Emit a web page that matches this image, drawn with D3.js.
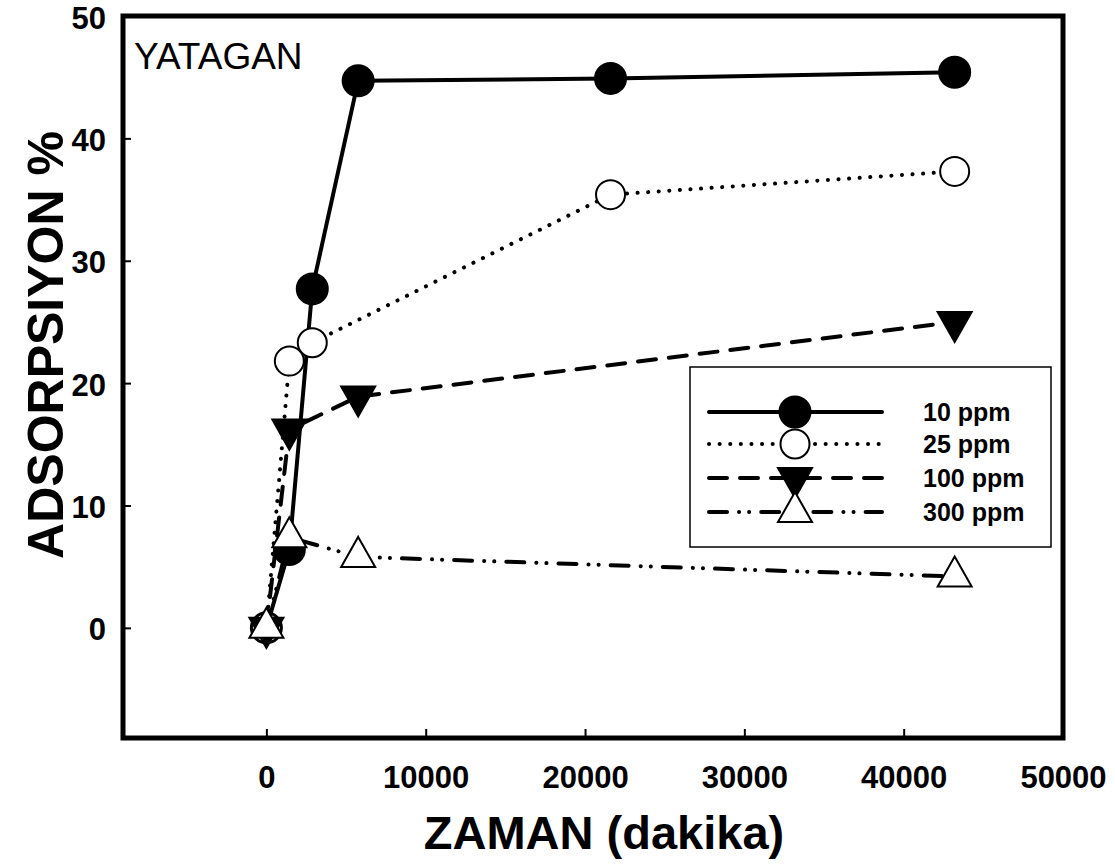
<!DOCTYPE html>
<html>
<head>
<meta charset="utf-8">
<script src="https://cdn.jsdelivr.net/npm/d3@7"></script>
<style>
  html, body { margin: 0; padding: 0; background: #fff; }
  svg { display: block; }
  text { font-family: "Liberation Sans", Arial, sans-serif; fill: #000; }
</style>
</head>
<body>
<svg id="chart" width="1115" height="865"></svg>
<script>
// Contact time in minutes
const times10 = [0, 1440, 2880, 5760, 21600, 43200];
const ads10   = [0, 6.4, 27.7, 44.7, 44.9, 45.4];

const times25 = [0, 1440, 2880, 21600, 43200];
const ads25   = [0, 21.8, 23.3, 35.4, 37.3];

const times100 = [0, 1440, 5760, 43200];
const ads100   = [0, 16.2, 18.9, 25.0];

const times300 = [0, 1440, 5760, 43200];
const ads300   = [0, 7.4, 5.8, 4.2];

const seriesNames = ["10 ppm", "25 ppm", "100 ppm", "300 ppm"];
const xTicks = [0, 10000, 20000, 30000, 40000, 50000];
const yTicks = [0, 10, 20, 30, 40, 50];

const svg = d3.select("#chart");
const L = 123, R = 1063, T = 16, B = 738;

const x = d3.scaleLinear().domain([-9000, 50000]).range([L, R]);
const y = d3.scaleLinear().domain([-9, 50]).range([B, T]);

// Series styling
const styles = [
  { dash: null,                    symbol: "circle",   fill: "#000" },
  { dash: "0.1,10.5",              symbol: "circle",   fill: "#fff" },
  { dash: "18,13",                 symbol: "triDown",  fill: "#000" },
  { dash: "18,12,0.1,10,0.1,12",   symbol: "triUp",    fill: "#fff" }
];

const series = [
  times10.map((t, i) => [t, ads10[i]]),
  times25.map((t, i) => [t, ads25[i]]),
  times100.map((t, i) => [t, ads100[i]]),
  times300.map((t, i) => [t, ads300[i]])
];

function symbolPath(kind) {
  const w = 34, h = 30;
  if (kind === "triDown") return `M${-w/2},${-h/3}L${w/2},${-h/3}L0,${2*h/3}Z`;
  if (kind === "triUp") return `M0,${-2*h/3}L${w/2},${h/3}L${-w/2},${h/3}Z`;
  return null;
}

function drawSymbol(g, kind, fill, cx, cy) {
  if (kind === "circle") {
    g.append("circle")
      .attr("cx", cx).attr("cy", cy)
      .attr("r", fill === "#000" ? 15.5 : 14.5)
      .attr("fill", fill)
      .attr("stroke", "#000")
      .attr("stroke-width", 2);
  } else {
    g.append("path")
      .attr("d", symbolPath(kind))
      .attr("transform", `translate(${cx},${cy})`)
      .attr("fill", fill)
      .attr("stroke", "#000")
      .attr("stroke-width", 2)
      .attr("stroke-linejoin", "miter");
  }
}

const line = d3.line().x(d => x(d[0])).y(d => y(d[1]));

const plot = svg.append("g");
series.forEach((data, i) => {
  const st = styles[i];
  plot.append("path")
    .datum(data)
    .attr("d", line)
    .attr("fill", "none")
    .attr("stroke", "#000")
    .attr("stroke-width", 4)
    .attr("stroke-linecap", "round")
    .attr("stroke-linejoin", "round")
    .attr("stroke-dasharray", st.dash);
  data.forEach(d => drawSymbol(plot, st.symbol, st.fill, x(d[0]), y(d[1])));
});

// Frame
svg.append("rect")
  .attr("x", L).attr("y", T)
  .attr("width", R - L).attr("height", B - T)
  .attr("fill", "none")
  .attr("stroke", "#000")
  .attr("stroke-width", 5);

// Axes with inward ticks
const xAxis = svg.append("g")
  .attr("transform", `translate(0,${B})`)
  .call(d3.axisBottom(x).tickValues(xTicks).tickFormat(d3.format("d"))
    .tickSizeInner(-9).tickSizeOuter(0).tickPadding(28));
xAxis.select(".domain").remove();
xAxis.selectAll(".tick line").attr("stroke", "#000").attr("stroke-width", 2);
xAxis.selectAll(".tick text")
  .attr("font-size", 31).attr("font-weight", "bold")
  .attr("font-family", "'Liberation Sans', Arial, sans-serif")
  .attr("fill", "#000");

const yAxis = svg.append("g")
  .attr("transform", `translate(${L},0)`)
  .call(d3.axisLeft(y).tickValues(yTicks).tickFormat(d3.format("d"))
    .tickSizeInner(-8).tickSizeOuter(0).tickPadding(17));
yAxis.select(".domain").remove();
yAxis.selectAll(".tick line").attr("stroke", "#000").attr("stroke-width", 2);
yAxis.selectAll(".tick text")
  .attr("font-size", 31).attr("font-weight", "bold")
  .attr("dy", "0.39em")
  .attr("font-family", "'Liberation Sans', Arial, sans-serif")
  .attr("fill", "#000");

// Axis titles
svg.append("text")
  .attr("x", 604).attr("y", 849)
  .attr("text-anchor", "middle")
  .attr("font-size", 47).attr("font-weight", "bold")
  .text("ZAMAN (dakika)");

svg.append("text")
  .attr("transform", "translate(63,345) rotate(-90)")
  .attr("text-anchor", "middle")
  .attr("font-size", 50).attr("font-weight", "bold")
  .text("ADSORPSIYON %");

// Site label
svg.append("text")
  .attr("x", 134).attr("y", 69)
  .attr("font-size", 37)
  .text("YATAGAN");

// Legend
const leg = svg.append("g");
leg.append("rect")
  .attr("x", 690).attr("y", 367)
  .attr("width", 361).attr("height", 180)
  .attr("fill", "#fff")
  .attr("stroke", "#000")
  .attr("stroke-width", 1.5);

const rowY = [412, 444, 478, 512];
seriesNames.forEach((name, i) => {
  const st = styles[i];
  leg.append("line")
    .attr("x1", 709).attr("x2", 882)
    .attr("y1", rowY[i]).attr("y2", rowY[i])
    .attr("stroke", "#000")
    .attr("stroke-width", 4)
    .attr("stroke-linecap", "round")
    .attr("stroke-dasharray", st.dash);
});
seriesNames.forEach((name, i) => {
  const st = styles[i];
  drawSymbol(leg, st.symbol, st.fill, 795, rowY[i]);
  leg.append("text")
    .attr("x", 923).attr("y", rowY[i])
    .attr("dy", "0.36em")
    .attr("font-size", 25).attr("font-weight", "bold")
    .text(name);
});
</script>
</body>
</html>
